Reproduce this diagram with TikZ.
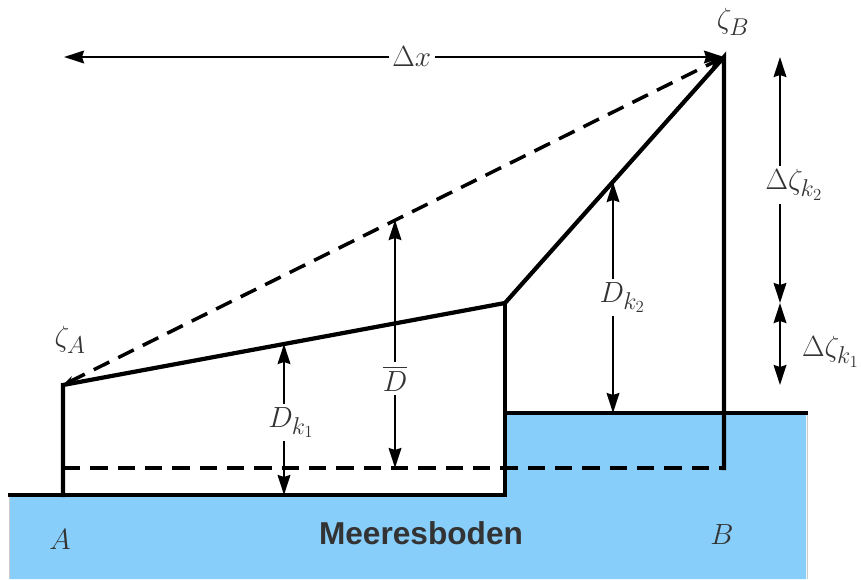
\documentclass[tikz,border=0pt]{standalone}
\usepackage{fontspec}
\setsansfont{Liberation Sans}
\usepackage{amsmath}
\usetikzlibrary{arrows.meta}
\definecolor{SeaBlue}{HTML}{87CEFA}
\definecolor{SeaBorder}{HTML}{CCCCCC}
\definecolor{LabelGray}{HTML}{333333}
\tikzset{
  profLine/.style={
    line width=3.6pt,
    line cap=rect
  },
  levelDash/.style={
    line width=3pt,
    dash pattern=on 5.2mm off 3mm
  },
  dimArrow/.style={
    line width=2pt,
    {Stealth[length=6mm, width=3.8mm, inset=0.6mm]}-{Stealth[length=6mm, width=3.8mm, inset=0.6mm]}
  },
  dimLabel/.style={
    fill=white,
    inner sep=3pt,
    text=LabelGray,
    font=\fontsize{30pt}{34pt}\selectfont
  },
  ptLabel/.style={
    text=LabelGray,
    inner sep=0pt,
    font=\fontsize{30pt}{34pt}\selectfont
  }
}
\begin{document}
\begin{tikzpicture}[x=0.03cm, y=-0.03cm]
  \useasboundingbox (0,0) rectangle (861,579);

  % seabed
  \fill[SeaBlue] (10,495) -- (505,495) -- (505,413) -- (806,413) -- (806,579) -- (10,579) -- cycle;
  \draw[SeaBorder, line width=0.8pt] (9,495) -- (9,579);
  \draw[SeaBorder, line width=0.8pt] (807,413) -- (807,579);

  % profile points
  \coordinate (gL) at (10,495);
  \coordinate (aBot) at (63,495);
  \coordinate (aTop) at (63,385);
  \coordinate (kBot) at (505,495);
  \coordinate (kStep) at (505,413);
  \coordinate (kTop) at (505,303);
  \coordinate (gR) at (806,413);
  \coordinate (bTop) at (724,57);
  \coordinate (bBot) at (724,468);
  \coordinate (aDash) at (63,468);
  \coordinate (dxL) at (64,57);

  \draw[profLine] (gL) -- (kBot) -- (kTop);
  \draw[profLine] (kStep) -- (gR);
  \draw[profLine] (aBot) -- (aTop) -- (kTop) -- (bTop) -- (bBot);
  \draw[levelDash] (aDash) -- (bBot);
  \draw[levelDash, {Stealth[length=3.5mm, width=2.4mm]}-{Stealth[length=5mm, width=3.2mm]}] (aTop) -- (bTop);

  % dimensions
  \coordinate (dbTop) at (395,220);
  \coordinate (dbBot) at (395,468);
  \coordinate (d1Top) at (284,344);
  \coordinate (d1Bot) at (284,495);
  \coordinate (d2Top) at (613,182);
  \coordinate (d2Bot) at (613,413);
  \coordinate (z2Top) at (780,57);
  \coordinate (z2Bot) at (780,303);
  \coordinate (z1Bot) at (780,385);

  \draw[dimArrow] (dxL) -- node[dimLabel, pos=0.527] {$\Delta x$} (bTop);
  \draw[dimArrow] (dbTop) -- node[dimLabel, pos=0.64] {$\overline{D}$} (dbBot);
  \draw[dimArrow] (d1Top) -- node[dimLabel, pos=0.52, xshift=6pt] {$D_{k_1}$} (d1Bot);
  \draw[dimArrow] (d2Top) -- node[dimLabel, pos=0.5, xshift=8pt] {$D_{k_2}$} (d2Bot);
  \draw[dimArrow] (z2Top) -- node[dimLabel, pos=0.52, xshift=12pt] {$\Delta\zeta_{k_2}$} (z2Bot);
  \draw[dimArrow] (z2Bot) -- (z1Bot);
  \node[ptLabel, anchor=west] (lz1) at (802,352) {$\Delta\zeta_{k_1}$};

  % point labels
  \node[ptLabel] (zA) at (70,340) {$\zeta_A$};
  \node[ptLabel] (zB) at (733,22) {$\zeta_B$};
  \node[ptLabel] (pA) at (60,540) {$A$};
  \node[ptLabel] (pB) at (722,535) {$B$};
  \node[text=LabelGray, font=\sffamily\bfseries\fontsize{27pt}{31pt}\selectfont] (seabed) at (421,533) {Meeresboden};
\end{tikzpicture}
\end{document}
